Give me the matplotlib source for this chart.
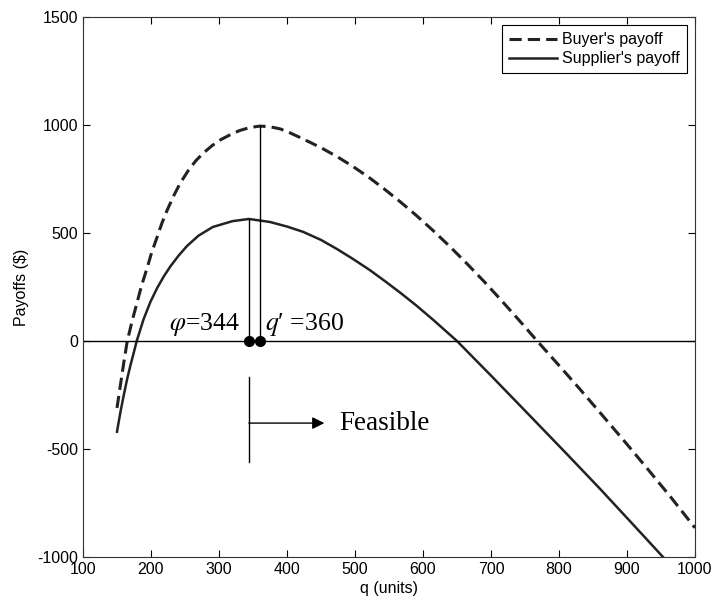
import matplotlib
matplotlib.use("Agg")
import matplotlib.pyplot as plt

plt.rcParams["mathtext.fontset"] = "stix"
plt.rcParams["axes.unicode_minus"] = False

# Values
buyer_q = [150, 155, 160, 165, 172, 179, 186, 194, 201, 209, 216, 223, 233, 243,
           255, 266, 277, 290, 303, 316, 330, 345, 360, 375, 390, 405, 424, 450,
           474, 498, 522, 545, 566, 590, 615, 640, 665, 690, 713, 740, 768, 800,
           830, 860, 900, 930, 965, 1000]
buyer_pay = [-310, -205, -100, -2, 90, 172, 255, 335, 410, 481, 545, 600, 670, 731,
             790, 835, 870, 905, 933, 954, 974, 988, 995, 992, 982, 963, 935, 895,
             853, 806, 754, 699, 646, 582, 511, 436, 357, 275, 196, 101, 0, -113,
             -220, -330, -478, -591, -725, -865]

supplier_q = [150, 155, 160, 165, 170, 175, 179, 189, 199, 209, 219, 228, 240, 253,
              270, 291, 320, 344, 375, 400, 424, 450, 474, 498, 522, 545, 566, 590,
              615, 650, 700, 760, 810, 860, 910, 953]
supplier_pay = [-420, -330, -250, -175, -110, -50, 0, 100, 180, 245, 300, 343, 393,
                440, 488, 528, 555, 565, 551, 530, 505, 468, 425, 378, 328, 275, 225,
                165, 98, 0, -160, -355, -518, -683, -853, -1000]

phi_q, phi_pay = 344, 565
qp_q, qp_pay = 360, 995

fig = plt.figure(figsize=(7.13, 6.01), dpi=100)
ax = fig.add_axes([0.1164, 0.0732, 0.8583, 0.8985])

ax.plot(buyer_q, buyer_pay, color="#222222", lw=2.2, linestyle=(0, (4, 2)),
        label="Buyer's payoff")
ax.plot(supplier_q, supplier_pay, color="#222222", lw=1.8, label="Supplier's payoff")

# zero line and optimum markers
ax.axhline(0, color="black", lw=1)
ax.plot([phi_q, phi_q], [0, phi_pay], color="black", lw=1)
ax.plot([qp_q, qp_q], [0, qp_pay], color="black", lw=1)
ax.plot([phi_q, qp_q], [0, 0], "o", color="black", ms=7)

serif = "Liberation Serif"
ax.text(330, 75, r"$\varphi$=344", family=serif, fontsize=18.5, ha="right", va="center")
ax.text(367, 75, "$q$\u2032 =360", family=serif, fontsize=18.5, ha="left", va="center")

# feasible region marker
ax.plot([phi_q, phi_q], [-167, -560], color="black", lw=1)
ax.annotate("", xy=(455, -380), xytext=(phi_q, -380),
            arrowprops=dict(arrowstyle="-|>", color="black", lw=1,
                            mutation_scale=18, shrinkA=0, shrinkB=0))
ax.text(477, -380, "Feasible", family=serif, fontsize=19.5, ha="left", va="center")

ax.set_xlim(100, 1000)
ax.set_ylim(-1000, 1500)
ax.set_xticks(range(100, 1001, 100))
ax.set_yticks(range(-1000, 1501, 500))
ax.tick_params(direction="in", top=True, right=True, labelsize=11.5, length=5)
for lab in ax.get_xticklabels() + ax.get_yticklabels():
    lab.set_family("Liberation Sans")
for s in ax.spines.values():
    s.set_color("#333333")

ax.set_xlabel("q (units)", family="Liberation Sans", fontsize=11.5, labelpad=3)
ax.set_ylabel("Payoffs ($)", family="Liberation Sans", fontsize=11.5, labelpad=6)

leg = ax.legend(loc="upper right", fancybox=False, framealpha=1, edgecolor="black",
                prop={"family": "Liberation Sans", "size": 11.5}, handlelength=3,
                borderpad=0.45, labelspacing=0.25, handletextpad=0.3,
                borderaxespad=0.5)
leg.get_frame().set_linewidth(0.8)

fig.savefig("out.png", dpi=100)
